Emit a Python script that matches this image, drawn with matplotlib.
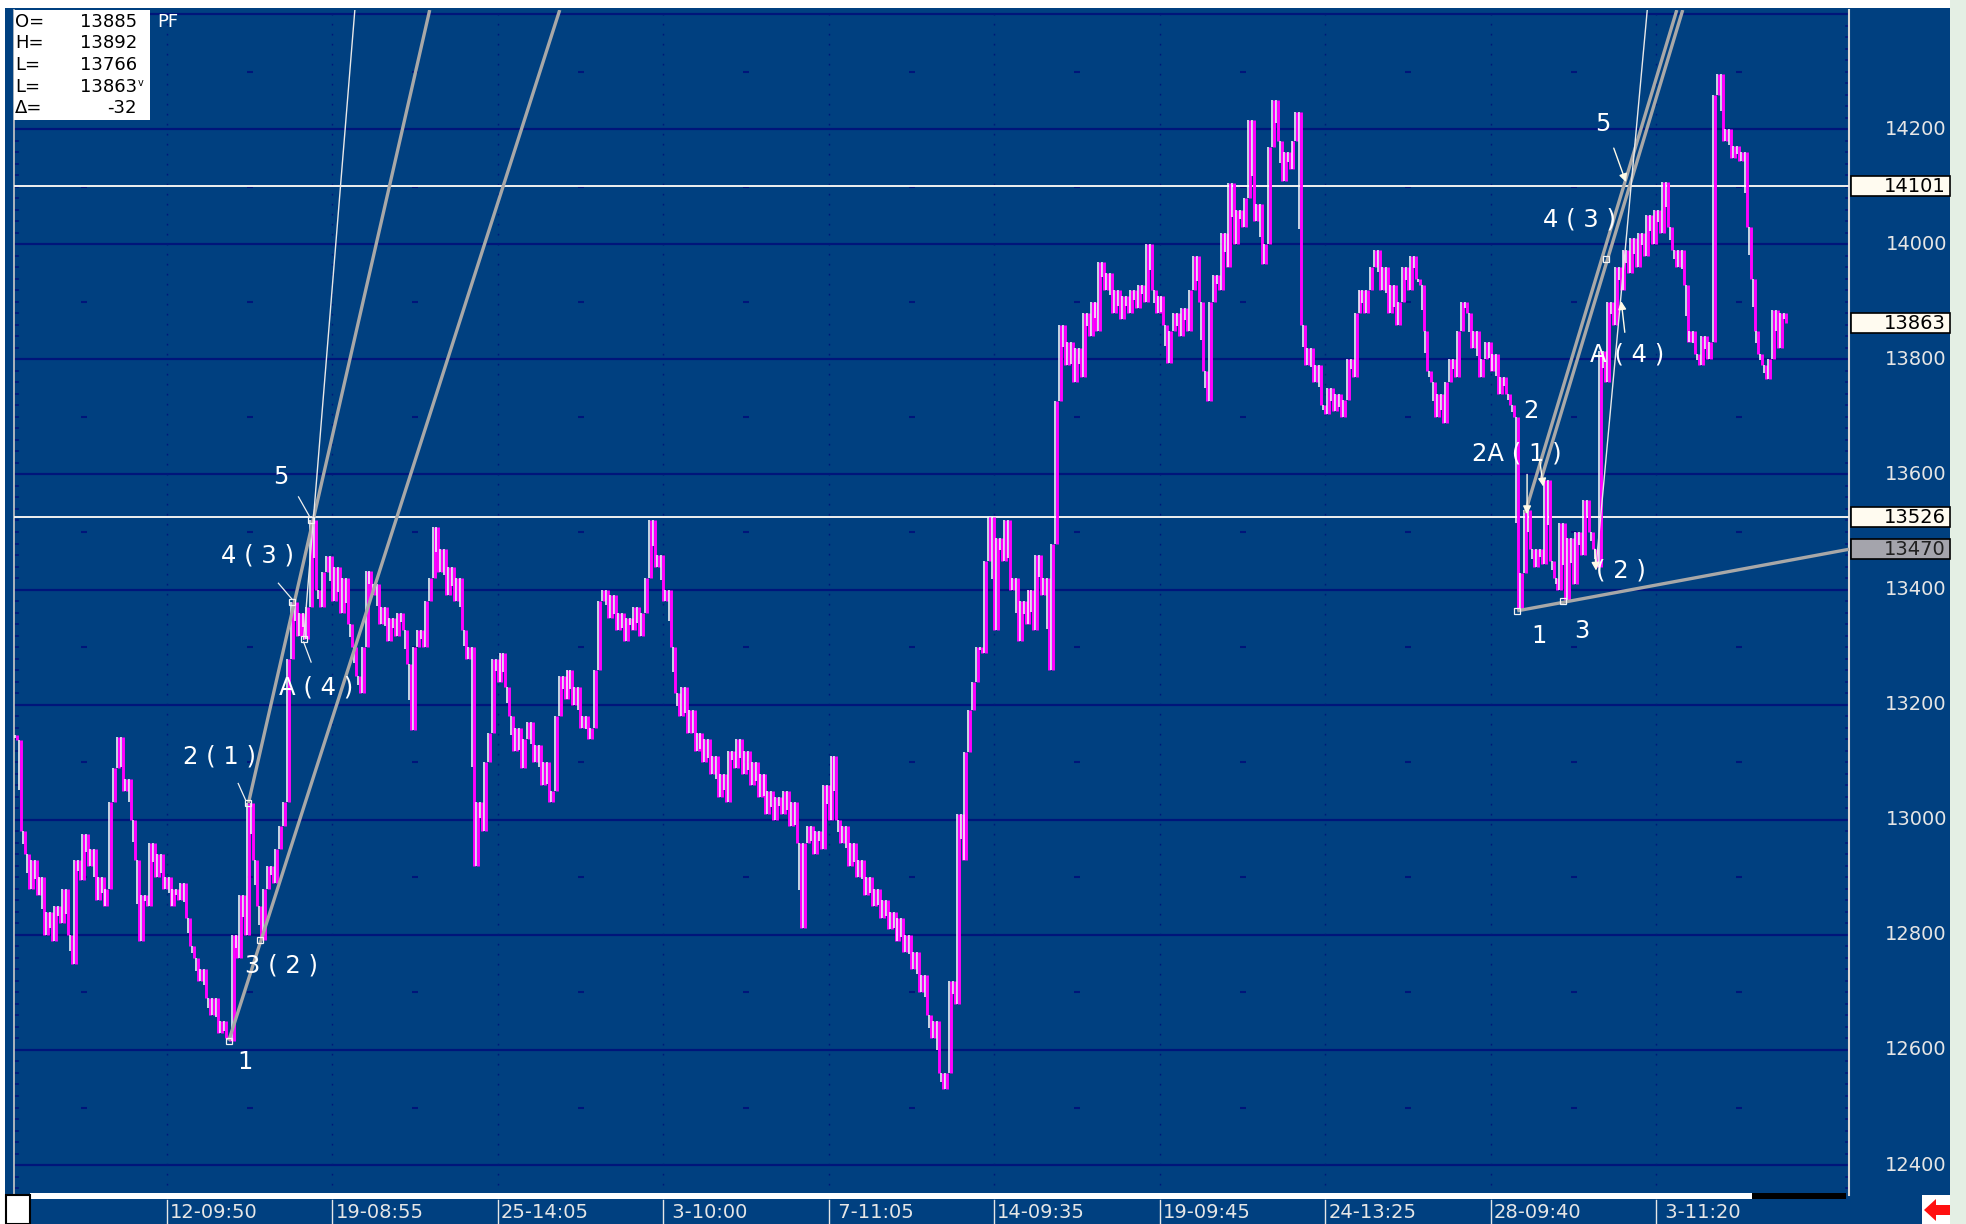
import numpy as np
import matplotlib
matplotlib.use('Agg')
import matplotlib.pyplot as plt
from matplotlib.patches import Rectangle, Polygon
import matplotlib.transforms as mtransforms

# ---------------- data ----------------
closes = [
    13138, 12980, 12940, 12880, 12930, 12870, 12900, 12800, 12840, 12790,
    12850, 12820, 12880, 12800, 12750, 12930, 12895, 12975, 12920, 12950,
    12860, 12900, 12850, 12880, 13030, 13090, 13143, 13050, 13070, 13000,
    12930, 12790, 12870, 12850, 12960, 12900, 12940, 12880, 12900, 12850,
    12880, 12860, 12890, 12830, 12780, 12760, 12720, 12740, 12690, 12660,
    12690, 12630, 12650, 12620, 12616, 12800, 12760, 12870, 12800, 13029,
    12930, 12850, 12791, 12880, 12920, 12890, 12950, 12990, 13030, 13280,
    13378, 13320, 13360, 13314, 13370, 13520, 13400, 13370, 13430, 13458,
    13380, 13440, 13360, 13420, 13340, 13300, 13250, 13220, 13300, 13433,
    13390, 13410, 13340, 13370, 13310, 13350, 13320, 13360, 13330, 13270,
    13156, 13300, 13330, 13300, 13380, 13420, 13509, 13430, 13470, 13390,
    13440, 13380, 13420, 13330, 13280, 13300, 12920, 13030, 12980, 13100,
    13150, 13280, 13240, 13290, 13230, 13180, 13120, 13160, 13090, 13140,
    13170, 13100, 13130, 13060, 13100, 13030, 13050, 13180, 13250, 13210,
    13260, 13200, 13230, 13160, 13180, 13140, 13160, 13260, 13380, 13400,
    13350, 13390, 13330, 13360, 13310, 13350, 13330, 13370, 13320, 13360,
    13420, 13520, 13440, 13460, 13380, 13400, 13300, 13220, 13180, 13230,
    13150, 13190, 13120, 13150, 13100, 13140, 13080, 13110, 13040, 13080,
    13030, 13120, 13090, 13140, 13080, 13120, 13060, 13100, 13040, 13080,
    13010, 13050, 13000, 13040, 13010, 13050, 12990, 13030, 12960, 12812,
    12960, 12990, 12940, 12980, 12950, 13060, 13000, 13110, 13000, 12960,
    12990, 12920, 12960, 12900, 12930, 12870, 12900, 12850, 12880, 12830,
    12860, 12810, 12840, 12790, 12830, 12770, 12800, 12740, 12770, 12700,
    12730, 12660, 12620, 12650, 12560, 12533, 12560, 12720, 12680, 13010,
    12930, 13117, 13190, 13240, 13300, 13290, 13450, 13526, 13330, 13490,
    13450, 13520, 13400, 13420, 13310, 13380, 13340, 13400, 13330, 13460,
    13390, 13420, 13260, 13480, 13727, 13860, 13790, 13830, 13760, 13820,
    13770, 13880, 13840, 13900, 13850, 13970, 13920, 13950, 13880, 13920,
    13870, 13910, 13880, 13920, 13890, 13930, 13900, 14000, 13920, 13880,
    13910, 13860, 13793, 13850, 13880, 13840, 13890, 13850, 13920, 13980,
    13900, 13780, 13727, 13900, 13946, 13920, 14019, 13960, 14106, 14000,
    14060, 14030, 14080, 14216, 14040, 14070, 13966, 14000, 14169, 14250,
    14180, 14110, 14160, 14130, 14180, 14230, 13860, 13790, 13820, 13760,
    13790, 13720, 13705, 13750, 13710, 13740, 13700, 13730, 13800, 13770,
    13880, 13920, 13880, 13920, 13960, 13990, 13920, 13960, 13880, 13930,
    13860, 13900, 13960, 13920, 13980, 13940, 13930, 13850, 13780, 13760,
    13700, 13740, 13690, 13760, 13800, 13770, 13850, 13900, 13880, 13820,
    13850, 13770, 13800, 13830, 13780, 13810, 13740, 13770, 13740, 13720,
    13700, 13364, 13428, 13538, 13470, 13440, 13470, 13445, 13590, 13450,
    13420, 13400, 13515, 13382, 13490, 13410, 13500, 13460, 13555, 13500,
    13470, 13439, 13815, 13760, 13900, 13860, 13960, 13920, 13990, 13950,
    14010, 13960, 14020, 13980, 14050, 14000, 14060, 14020, 14108, 14030,
    13990, 13960, 13990, 13930, 13830, 13850, 13810, 13790, 13840, 13800,
    13830, 14260, 14295, 14180, 14200, 14150, 14170, 14145, 14160, 14030,
    13940, 13850, 13810, 13790, 13766, 13800, 13885, 13820, 13880, 13863,
]

price_ticks = [12400, 12600, 12800, 13000, 13200, 13400, 13600, 13800, 14000, 14200]
time_labels = ["12-09:50", "19-08:55", "25-14:05", " 3-10:00", " 7-11:05",
               "14-09:35", "19-09:45", "24-13:25", "28-09:40", " 3-11:20"]
first_tick_bar = 38.3
bars_per_label = 42.0

info_keys = ["O=", "H=", "L=", "L=", "\u0394="]
info_vals = ["13885", "13892", "13766", "13863", "-32"]

level_lines = [14101, 13526]          # white horizontal lines
marker_labels = [14101, 13863, 13526]  # cream boxes on the price axis
trend_label = 13470                    # grey box

# wave labels: (text, bar, price)
wave_text = [
    ("1", 58.0, 12579), ("2 ( 1 )", 51.6, 13110), ("3 ( 2 )", 67.5, 12747),
    ("4 ( 3 )", 61.2, 13459), ("A ( 4 )", 76.1, 13230), ("5", 67.2, 13596),
    ("1", 386.4, 13320), ("3", 397.5, 13328), ("2", 384.6, 13710),
    ("2A ( 1 )", 381.0, 13636), ("( 2 )", 407.4, 13433), ("A ( 4 )", 409.0, 13808),
    ("4 ( 3 )", 396.9, 14043), ("5", 402.6, 14209),
]
# wave points with square markers: (bar, price)
wave_squares = [(54, 12616), (59, 13029), (62, 12791), (70, 13378), (73, 13314),
                (75, 13520), (381, 13363), (392.5, 13380), (403.6, 13975)]
# short pointer lines: (bar0, price0, bar1, price1)
pointers = [(71.7, 13561, 74.5, 13527), (66.6, 13411, 70.1, 13383),
            (74.9, 13274, 73.0, 13309), (56.4, 13063, 58.3, 13034)]
# arrows on the right wave: (bar_from, price_from, bar_to, price_to)
arrows = [(405.5, 14167, 408.6, 14108), (408.3, 13847, 407.4, 13901),
          (383.5, 13600, 383.5, 13531), (386.7, 13625, 387.6, 13579),
          (400.7, 13470, 401.0, 13433)]
# fan / channel lines: (bar0, price0, bar1, price1)
grey_lines = [(54, 12616, 138, 14407), (59, 13029, 105, 14407),
              (381, 13363, 465.2, 13470), (387, 13590, 423, 14407),
              (383, 13533, 421.5, 14407)]
thin_lines = [(73, 13314, 86, 14407), (401, 13439, 414, 14407)]

# ---------------- style ----------------
W, H = 1966, 1224
BLUE = '#004080'
NAVY = '#00157a'
MAG = '#ff00ff'
TXT = '#e6e6e6'

fig = plt.figure(figsize=(W / 100, H / 100), dpi=100)
fig.patch.set_facecolor('white')

def fx(x):
    return x / W

def fy(y):
    return 1 - y / H

# big blue window background
fig.add_artist(Rectangle((fx(5), 0), fx(1950 - 5), 1 - 8 / H, transform=fig.transFigure,
                         facecolor=BLUE, edgecolor='none', zorder=0))
fig.add_artist(Rectangle((fx(1950), 0), fx(16), 1, transform=fig.transFigure,
                         facecolor='#e4efe4', edgecolor='none', zorder=0))

ax_l, ax_r, ax_t, ax_b = 14, 1849, 10, 1195
ax = fig.add_axes([fx(ax_l), fy(ax_b), fx(ax_r - ax_l), (ax_b - ax_t) / H])
ax.set_facecolor(BLUE)
n = len(closes)
XMAX = 465.2
ax.set_xlim(-0.5, XMAX)
ax.set_ylim(12348, 14407)

for s in ['top', 'bottom']:
    ax.spines[s].set_visible(False)
ax.spines['left'].set_color('#c8c8c8')
ax.spines['left'].set_linewidth(1.2)
ax.spines['right'].set_color('#d8d8d8')
ax.spines['right'].set_linewidth(1.5)
ax.set_xticks([])
ax.set_yticks([])

# gridlines
for p in range(12400, 14401, 200):
    ax.axhline(p, color=NAVY, lw=1.6, zorder=1)
tick_bars = [first_tick_bar + bars_per_label * k for k in range(len(time_labels))]
for tb in tick_bars:
    ax.axvline(tb, color=NAVY, lw=1.0, ls=(0, (1.2, 6)), zorder=1)
mids = [tb - bars_per_label / 2 for tb in tick_bars] + [tick_bars[-1] + bars_per_label / 2]
for p in range(12500, 14401, 200):
    ax.plot(mids, [p] * len(mids), ls='none', marker='_', ms=4, mew=1.5, color=NAVY, zorder=1)
# small edge ticks
for p in range(12360, 14400, 20):
    ax.plot([XMAX - 0.8, XMAX - 0.3], [p, p], color=NAVY, lw=1.2, zorder=1)
    ax.plot([-0.3, 0.5], [p, p], color=NAVY, lw=1.2, zorder=1)

# level lines
for lv in level_lines:
    ax.axhline(lv, color='#f0f0f0', lw=1.4, zorder=3)

# price bars
x = np.arange(n)
c = np.array(closes, dtype=float)
prev = np.concatenate([[c[0] + 10], c[:-1]])
lo = np.minimum(prev, c)
hi = np.maximum(prev, c)
up = c > prev
dn = ~up
ax.vlines(x + 0.22, lo, hi, color=MAG, lw=2.1, zorder=4)
ax.vlines(x[up] - 0.28, lo[up], hi[up], color='white', lw=1.1, zorder=4)
ax.vlines(x[dn] - 0.28, hi[dn] - (hi[dn] - lo[dn]) * 0.55, hi[dn], color='white', lw=1.1, zorder=4)

# channel lines
for (b0, p0, b1, p1) in grey_lines:
    ax.plot([b0, b1], [p0, p1], color='#a8a8a8', lw=2.4, zorder=5, solid_capstyle='butt')
for (b0, p0, b1, p1) in thin_lines:
    ax.plot([b0, b1], [p0, p1], color='#e8e8e8', lw=1.0, zorder=5)

# wave markers
for (b, p) in wave_squares:
    ax.plot(b, p, marker='s', ms=4.5, mfc='none', mec='#f4f4f4', mew=0.9, zorder=6)
for (b0, p0, b1, p1) in pointers:
    ax.plot([b0, b1], [p0, p1], color='#f0f0f0', lw=0.9, zorder=6)
for (b0, p0, b1, p1) in arrows:
    ax.annotate('', xy=(b1, p1), xytext=(b0, p0),
                arrowprops=dict(arrowstyle='-|>', color='#fffbe8', lw=1.0,
                                mutation_scale=12, shrinkA=0, shrinkB=0), zorder=6)
for (t, b, p) in wave_text:
    ax.text(b, p, t, color='white', fontsize=17.5, ha='center', va='center',
            family='DejaVu Sans', zorder=7)

# ---------------- right price axis ----------------
ytr = mtransforms.blended_transform_factory(ax.transAxes, ax.transData)
ax_w = ax_r - ax_l
def axx(px):
    return (px - ax_l) / ax_w

for p in price_ticks:
    ax.text(axx(1947), p, str(p), transform=ytr, ha='right', va='center',
            color=TXT, fontsize=14, family='DejaVu Sans', clip_on=False)

box_h = 20 * (14407 - 12348) / (ax_b - ax_t)
for p in marker_labels:
    ax.add_patch(Rectangle((axx(1851), p - box_h / 2), axx(1950) - axx(1851), box_h,
                           transform=ytr, facecolor='#fffbf0', edgecolor='black',
                           lw=1.2, clip_on=False, zorder=8))
    ax.text(axx(1946), p, str(p), transform=ytr, ha='right', va='center',
            color='black', fontsize=14, family='DejaVu Sans', clip_on=False, zorder=9)
ax.add_patch(Rectangle((axx(1851), trend_label - box_h / 2), axx(1950) - axx(1851), box_h,
                       transform=ytr, facecolor='#a4a4ac', edgecolor='black',
                       lw=1.2, clip_on=False, zorder=8))
ax.text(axx(1946), trend_label, str(trend_label), transform=ytr, ha='right', va='center',
        color='#202020', fontsize=14, family='DejaVu Sans', clip_on=False, zorder=9)

# ---------------- bottom time axis ----------------
fig.add_artist(Rectangle((fx(30), fy(1199)), fx(1752 - 30), 6 / H, transform=fig.transFigure,
                         facecolor='white', edgecolor='none', zorder=3))
fig.add_artist(Rectangle((fx(1752), fy(1199)), fx(1846 - 1752), 6 / H, transform=fig.transFigure,
                         facecolor='black', edgecolor='none', zorder=3))
fig.add_artist(Rectangle((fx(6), 0), fx(24), 29 / H, transform=fig.transFigure,
                         facecolor='white', edgecolor='black', lw=1.5, zorder=3))
for tb, lab in zip(tick_bars, time_labels):
    px = ax_l + (tb + 0.5) / (XMAX + 0.5) * ax_w
    fig.add_artist(plt.Line2D([fx(px), fx(px)], [0, fy(1200)], transform=fig.transFigure,
                              color=TXT, lw=1.0))
    fig.text(fx(px + 3), fy(1212), lab, color=TXT, fontsize=14, ha='left', va='center',
             family='DejaVu Sans')

# red arrow icon
fig.add_artist(Rectangle((fx(1922), 0), fx(28), 29 / H, transform=fig.transFigure,
                         facecolor='white', edgecolor='none', zorder=3))
arrow_pts = [(1924, 1210), (1936, 1199), (1936, 1205), (1950, 1205), (1950, 1215),
             (1936, 1215), (1936, 1221)]
fig.add_artist(Polygon([(fx(a), fy(b)) for a, b in arrow_pts], closed=True,
                       transform=fig.transFigure, facecolor='#ff1010', edgecolor='none', zorder=4))

# ---------------- info box ----------------
fig.add_artist(Rectangle((fx(14), fy(120)), fx(136), 110 / H, transform=fig.transFigure,
                         facecolor='white', edgecolor='none', zorder=5))
rows_y = [22, 43, 65, 87, 108]
for k, v, yy in zip(info_keys, info_vals, rows_y):
    fig.text(fx(15), fy(yy), k, color='black', fontsize=13, ha='left', va='center',
             family='DejaVu Sans', zorder=6)
    fig.text(fx(137), fy(yy), v, color='black', fontsize=13, ha='right', va='center',
             family='DejaVu Sans', zorder=6)
fig.text(fx(138), fy(83), 'v', color='black', fontsize=7, ha='left', va='center',
         family='DejaVu Sans', zorder=6)
fig.text(fx(157), fy(22), 'PF', color='white', fontsize=13, ha='left', va='center',
         family='DejaVu Sans', zorder=6)

fig.savefig('out.png', dpi=100, facecolor=fig.get_facecolor())
